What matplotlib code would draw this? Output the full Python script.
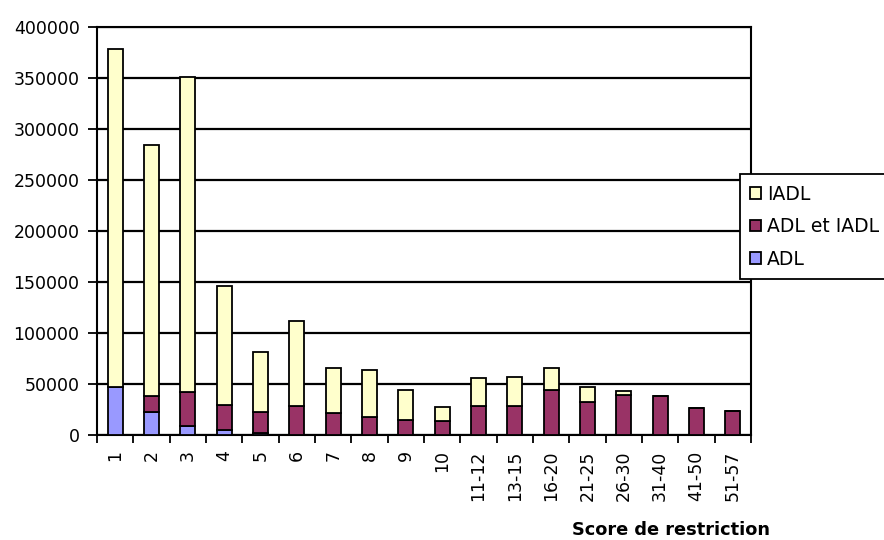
import matplotlib.pyplot as plt
import numpy as np

plt.rcParams['font.family'] = ['DejaVu Sans']

categories = ['1', '2', '3', '4', '5', '6', '7', '8', '9', '10',
              '11-12', '13-15', '16-20', '21-25', '26-30', '31-40', '41-50', '51-57']
adl = [47000, 23000, 9000, 5000, 1500, 0, 0, 0, 0, 0,
       0, 0, 0, 0, 0, 0, 0, 0]
adl_iadl = [0, 15000, 33500, 24400, 21500, 28800, 21900, 17300, 14700, 14000,
            28400, 28400, 43800, 32700, 38900, 38600, 26100, 23500]
iadl = [331000, 246000, 308500, 116600, 58700, 83000, 43600, 46700, 29400, 13800,
        27200, 28200, 21800, 14000, 4500, 0, 0, 0]

fig = plt.figure(figsize=(8.84, 5.4), dpi=100)
ax = fig.add_axes([0.1097, 0.1944, 0.7398, 0.7556])

x = np.arange(len(categories))
w = 0.41
edge = dict(edgecolor='black', linewidth=1.3, zorder=3)

ax.bar(x, adl, w, color='#9999FF', label='ADL', **edge)
ax.bar(x, adl_iadl, w, bottom=adl, color='#993366', label='ADL et IADL', **edge)
bottom2 = np.array(adl) + np.array(adl_iadl)
ax.bar(x, iadl, w, bottom=bottom2, color='#FFFFCC', label='IADL', **edge)

ax.set_xlim(-0.5, len(categories) - 0.5)
ax.set_ylim(0, 400000)
ax.set_yticks(np.arange(0, 400001, 50000))
ax.set_yticklabels([str(v) for v in range(0, 400001, 50000)], fontsize=12.5)
ax.yaxis.grid(True, color='black', linewidth=1.6, zorder=0)
ax.set_axisbelow(True)

ax.set_xticks(x)
ax.set_xticklabels(categories, rotation=90, fontsize=12.5)
ax.tick_params(axis='x', which='major', length=0, pad=11)
ax.set_xticks(np.arange(-0.5, len(categories)), minor=True)
ax.tick_params(axis='x', which='minor', length=6, width=1.3, color='black')
ax.tick_params(axis='y', length=6.5, width=1.3, color='black', pad=6)

for s in ax.spines.values():
    s.set_color('black')
    s.set_linewidth(1.5)

handles, labels = ax.get_legend_handles_labels()
leg = fig.legend(handles[::-1], labels[::-1], loc='upper left',
                 bbox_to_anchor=(0.837, 0.677), bbox_transform=fig.transFigure,
                 fontsize=13.5, fancybox=False, framealpha=1, edgecolor='black',
                 handlelength=0.55, handleheight=0.55, handletextpad=0.35,
                 borderpad=0.55, labelspacing=0.72, borderaxespad=0)
leg.get_frame().set_linewidth(1.3)

fig.text(671 / 884, 1 - 530 / 540, 'Score de restriction', ha='center', va='center',
         fontsize=12.8, fontweight='bold')

fig.savefig('out.png', dpi=100)
